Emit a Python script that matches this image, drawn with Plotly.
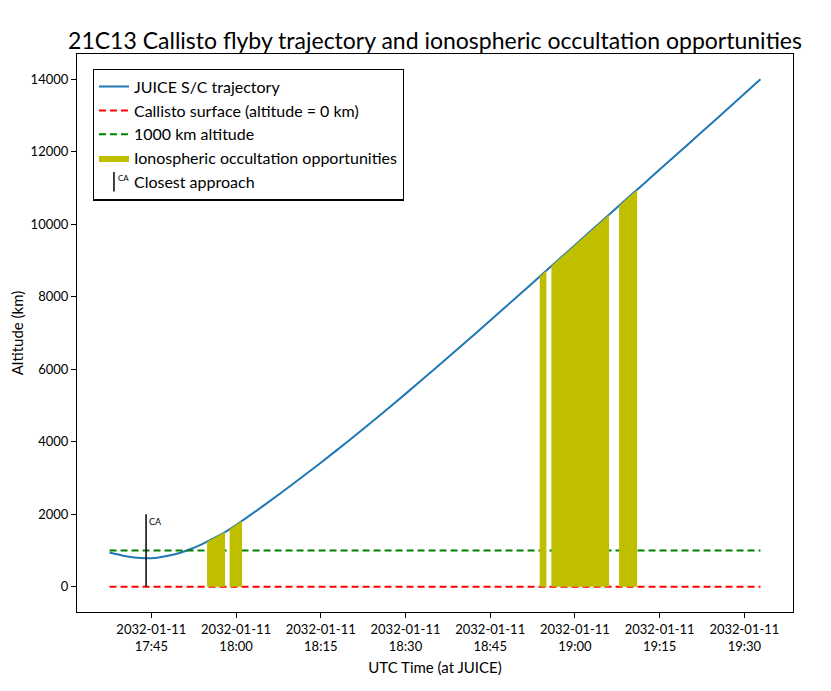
import numpy as np
import pandas as pd
import plotly.graph_objects as go

# ---- data ----
traj_time = [
    "2032-01-11 17:37:36", "2032-01-11 17:40:00", "2032-01-11 17:42:00", "2032-01-11 17:44:00",
    "2032-01-11 17:46:00", "2032-01-11 17:48:00", "2032-01-11 17:50:00", "2032-01-11 17:52:00",
    "2032-01-11 17:54:00", "2032-01-11 17:56:00", "2032-01-11 17:58:00", "2032-01-11 18:00:00",
    "2032-01-11 18:05:00", "2032-01-11 18:10:00", "2032-01-11 18:15:00", "2032-01-11 18:20:00",
    "2032-01-11 18:25:00", "2032-01-11 18:30:00", "2032-01-11 18:35:00", "2032-01-11 18:40:00",
    "2032-01-11 18:45:00", "2032-01-11 18:50:00", "2032-01-11 18:55:00", "2032-01-11 19:00:00",
    "2032-01-11 19:05:00", "2032-01-11 19:10:00", "2032-01-11 19:15:00", "2032-01-11 19:20:00",
    "2032-01-11 19:25:00", "2032-01-11 19:32:51",
]
traj_alt = [
    940, 855, 805, 784,
    800, 850, 930, 1040,
    1175, 1330, 1500, 1700,
    2250, 2825, 3420, 4035,
    4670, 5320, 5985, 6660,
    7345, 8035, 8730, 9425,
    10120, 10815, 11510, 12205,
    12900, 14000,
]

occ_start = ["2032-01-11 17:54:52", "2032-01-11 17:58:52", "2032-01-11 18:53:46",
             "2032-01-11 18:55:50", "2032-01-11 19:07:49"]
occ_end = ["2032-01-11 17:58:03", "2032-01-11 18:01:04", "2032-01-11 18:54:57",
           "2032-01-11 19:06:03", "2032-01-11 19:11:01"]

ca_time = "2032-01-11 17:44:04"
ca_top = 2000
surface_alt = 0
ref_alt = 1000

xtick_vals = ["2032-01-11 17:45", "2032-01-11 18:00", "2032-01-11 18:15", "2032-01-11 18:30",
              "2032-01-11 18:45", "2032-01-11 19:00", "2032-01-11 19:15", "2032-01-11 19:30"]
xtick_text = ["2032-01-11<br>17:45", "2032-01-11<br>18:00", "2032-01-11<br>18:15",
              "2032-01-11<br>18:30", "2032-01-11<br>18:45", "2032-01-11<br>19:00",
              "2032-01-11<br>19:15", "2032-01-11<br>19:30"]
ytick_vals = [0, 2000, 4000, 6000, 8000, 10000, 12000, 14000]
ytick_text = ["0", "2000", "4000", "6000", "8000", "10000", "12000", "14000"]

FONT = "Lato"

t = pd.to_datetime(pd.Series(traj_time))
tn = t.astype("int64").to_numpy()
alt = np.array(traj_alt, dtype=float)

fig = go.Figure()

fig.add_trace(go.Scatter(x=t, y=alt, mode="lines", name="JUICE S/C trajectory",
                         line=dict(color="#1f77b4", width=2, shape="spline", smoothing=0.6)))
fig.add_trace(go.Scatter(x=[t.iloc[0], t.iloc[-1]], y=[surface_alt, surface_alt], mode="lines",
                         name="Callisto surface (altitude = 0 km)",
                         line=dict(color="#ff0000", width=2, dash="7px,4px")))
fig.add_trace(go.Scatter(x=[t.iloc[0], t.iloc[-1]], y=[ref_alt, ref_alt], mode="lines",
                         name="1000 km altitude",
                         line=dict(color="#008000", width=2, dash="7px,4px")))

for i, (s, e) in enumerate(zip(occ_start, occ_end)):
    s_n = pd.Timestamp(s).value
    e_n = pd.Timestamp(e).value
    inner = (tn > s_n) & (tn < e_n)
    xs = np.concatenate([[s_n], tn[inner], [e_n]])
    ys = np.interp(xs, tn, alt)
    fig.add_trace(go.Scatter(x=pd.to_datetime(xs), y=ys, mode="lines", fill="tozeroy",
                             fillcolor="#bfbf00", line=dict(width=0, color="#bfbf00"),
                             name="Ionospheric occultation opportunities",
                             legendgroup="occ", showlegend=(i == 0)))

fig.add_trace(go.Scatter(x=[ca_time, ca_time], y=[surface_alt, ca_top], mode="lines",
                         line=dict(color="black", width=1.5), showlegend=False, hoverinfo="skip"))
fig.add_trace(go.Scatter(x=[t.iloc[0]], y=[-1e6], mode="markers",
                         name="Closest approach",
                         marker=dict(symbol="line-ns-open", size=14, color="black",
                                     line=dict(width=1.5, color="black"))))

fig.add_annotation(x=ca_time, y=ca_top, text="CA", showarrow=False, xanchor="left",
                   yanchor="top", xshift=1, font=dict(family=FONT, size=9, color="black"))

t0 = t.iloc[0]
t1 = t.iloc[-1]
span = t1 - t0
xr = [t0 - 0.05 * span, t1 + 0.05 * span]
ymax = max(traj_alt)
yr = [-0.05 * ymax, ymax * 1.05]

W, H = 823, 683
ML, MT, PW, PH = 69, 46, 716, 558
fig.update_layout(
    width=W, height=H,
    margin=dict(l=ML, r=W - ML - PW, t=MT, b=H - MT - PH, autoexpand=False),
    paper_bgcolor="white", plot_bgcolor="white",
    font=dict(family=FONT, color="black"),
    title=dict(text="21C13 Callisto flyby trajectory and ionospheric occultation opportunities",
               x=0.5, xref="paper", xanchor="center", y=1 - 33 / H, yref="container",
               yanchor="middle", automargin=False,
               font=dict(family=FONT, size=23, color="black")),
    showlegend=True,
    legend=dict(x=0.022, y=0.974, xanchor="left", yanchor="top",
                bordercolor="black", borderwidth=1.2, bgcolor="white",
                font=dict(family=FONT, size=16, color="black"),
                tracegroupgap=0, itemwidth=30),
)
# small "CA" superscript next to the legend's closest-approach symbol
fig.add_annotation(xref="paper", yref="paper", x=(116 - 8 - ML) / PW, y=1 - (178 - 8 - MT) / PH,
                   text="CA", showarrow=False, xanchor="left", yanchor="middle",
                   font=dict(family=FONT, size=8, color="black"))

fig.update_xaxes(type="date", range=xr, tickvals=xtick_vals, ticktext=xtick_text,
                 showgrid=False, zeroline=False, showline=True, linecolor="black", linewidth=1.2,
                 mirror=True, ticks="outside", ticklen=5, tickcolor="black", automargin=False,
                 tickfont=dict(family=FONT, size=13),
                 title=dict(text="UTC Time (at JUICE)", font=dict(family=FONT, size=15), standoff=9))
fig.update_yaxes(range=yr, tickvals=ytick_vals, ticktext=ytick_text, showgrid=False,
                 zeroline=False, showline=True, automargin=False,
                 linecolor="black", linewidth=1.2, mirror=True, ticks="outside", ticklen=5,
                 tickcolor="black", tickfont=dict(family=FONT, size=13),
                 title=dict(text="Altitude (km)", font=dict(family=FONT, size=15), standoff=4))

fig.write_html("out.html")
